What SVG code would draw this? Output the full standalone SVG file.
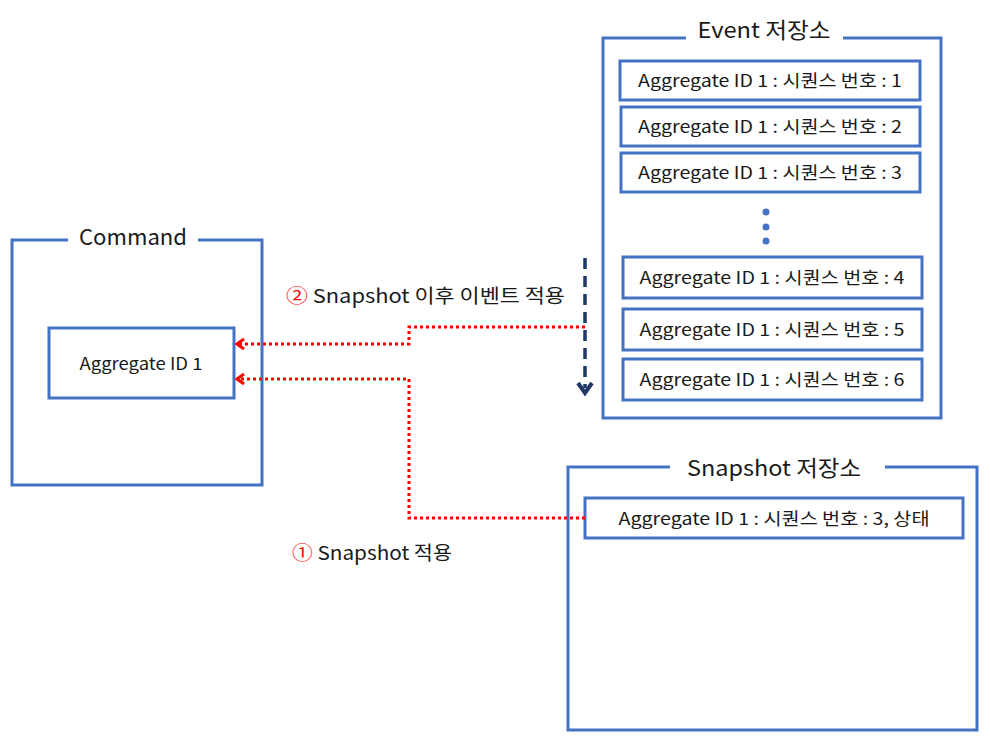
<svg xmlns="http://www.w3.org/2000/svg" width="990" height="752" viewBox="0 0 990 752">
<defs>
<style>
.frame{fill:none;stroke:#4472C4;stroke-width:3}
.box{fill:#fff;stroke:#4472C4;stroke-width:3}
text{font-family:"Noto Sans CJK KR","Noto Sans",sans-serif;fill:#1a1a1a}
.t{font-size:17px;text-anchor:middle}
.title{font-size:22px;text-anchor:middle}
.lbl{font-size:19px}
.red{fill:none;stroke:#FF0000;stroke-width:3;stroke-dasharray:3 3}
.num{fill:#FF0000}
</style>
<marker id="ra" viewBox="0 0 14 14" refX="11" refY="7" markerWidth="14" markerHeight="14" markerUnits="userSpaceOnUse" orient="auto">
<path d="M4 2 L11 7 L4 12" fill="none" stroke="#FF0000" stroke-width="3"/>
</marker>
</defs>
<rect width="990" height="752" fill="#fff"/>

<g id="command">
<path class="frame" d="M68 240 H12 V485 H262 V240 H198"/>
<text class="title" x="133" y="245" textLength="108" lengthAdjust="spacingAndGlyphs">Command</text>
</g>
<g id="aggregate">
<rect class="box" x="49" y="328" width="185" height="70"/>
<text class="t" x="141" y="370" textLength="123" lengthAdjust="spacingAndGlyphs">Aggregate ID 1</text>
</g>

<g id="event-store">
<path class="frame" d="M686 38 H603 V418 H941 V38 H843"/>
<text class="title" x="764" y="38" textLength="133" lengthAdjust="spacingAndGlyphs">Event 저장소</text>
</g>
<g id="event1"><rect class="box" x="620" y="61" width="300" height="39"/><text class="t" x="770" y="87" textLength="264" lengthAdjust="spacingAndGlyphs">Aggregate ID 1 : 시퀀스 번호 : 1</text></g>
<g id="event2"><rect class="box" x="621" y="107" width="299" height="39"/><text class="t" x="770" y="133" textLength="264" lengthAdjust="spacingAndGlyphs">Aggregate ID 1 : 시퀀스 번호 : 2</text></g>
<g id="event3"><rect class="box" x="621" y="153" width="299" height="39"/><text class="t" x="770" y="179" textLength="264" lengthAdjust="spacingAndGlyphs">Aggregate ID 1 : 시퀀스 번호 : 3</text></g>
<g id="dots" fill="#4472C4"><circle cx="766" cy="212" r="3.5"/><circle cx="766" cy="227" r="3.5"/><circle cx="766" cy="241" r="3.5"/></g>
<g id="event4"><rect class="box" x="623" y="257" width="299" height="41"/><text class="t" x="772" y="284" textLength="265" lengthAdjust="spacingAndGlyphs">Aggregate ID 1 : 시퀀스 번호 : 4</text></g>
<g id="event5"><rect class="box" x="623" y="309" width="299" height="41"/><text class="t" x="772" y="336" textLength="265" lengthAdjust="spacingAndGlyphs">Aggregate ID 1 : 시퀀스 번호 : 5</text></g>
<g id="event6"><rect class="box" x="623" y="359" width="299" height="41"/><text class="t" x="772" y="386" textLength="265" lengthAdjust="spacingAndGlyphs">Aggregate ID 1 : 시퀀스 번호 : 6</text></g>

<g id="snapshot-store">
<path class="frame" d="M670 467 H568 V730 H977 V467 H885"/>
<text class="title" x="774" y="476" textLength="174" lengthAdjust="spacingAndGlyphs">Snapshot 저장소</text>
</g>
<g id="snapshot1"><rect class="box" x="585" y="498" width="378" height="40"/><text class="t" x="774" y="525" textLength="311" lengthAdjust="spacingAndGlyphs">Aggregate ID 1 : 시퀀스 번호 : 3, 상태</text></g>

<g id="connectors">
<path d="M585 258 V388" fill="none" stroke="#1F3864" stroke-width="3.5" stroke-dasharray="11 7"/>
<path d="M578 383 L585 393 L592 383" fill="none" stroke="#1F3864" stroke-width="4"/>
<path class="red" d="M585 327 H409 V344 H237" marker-end="url(#ra)"/>
<path class="red" d="M585 518 H409 V379 H237" marker-end="url(#ra)"/>
</g>

<g id="labels">
<text class="lbl" x="286" y="303" textLength="279" lengthAdjust="spacingAndGlyphs"><tspan class="num">②</tspan> Snapshot 이후 이벤트 적용</text>
<text class="lbl" x="292" y="560" textLength="160" lengthAdjust="spacingAndGlyphs"><tspan class="num">①</tspan> Snapshot 적용</text>
</g>
</svg>
